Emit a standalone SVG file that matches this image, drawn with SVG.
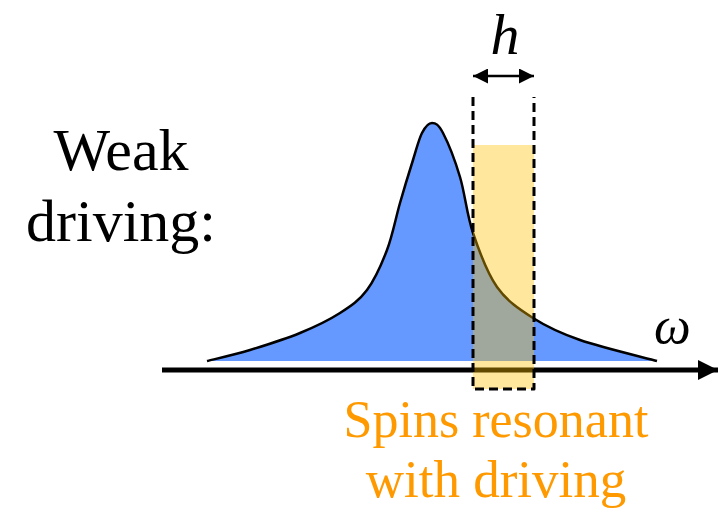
<svg xmlns="http://www.w3.org/2000/svg" width="719" height="511" viewBox="0 0 719 511">
<style>
.ln{stroke:#000;fill:none}
.serif{font-family:'Liberation Serif','Times New Roman',serif}
</style>
<defs>
<marker id="ah" viewBox="0 0 10 10" refX="10" refY="5" markerWidth="6" markerHeight="6" orient="auto-start-reverse" markerUnits="strokeWidth">
<path d="M0,0 L10,5 L0,10 Z" fill="#000"/>
</marker>
<marker id="axh" viewBox="0 0 10 10" refX="10" refY="5" markerWidth="4" markerHeight="4" orient="auto" markerUnits="strokeWidth">
<path d="M0,0 L10,5 L0,10 Z" fill="#000"/>
</marker>
</defs>
<rect width="719" height="511" fill="#fff"/>
<g id="title" class="serif" fill="#000" font-size="60" text-anchor="middle">
<text x="121" y="170">Weak</text>
<text x="121" y="241">driving:</text>
</g>
<g id="distribution">
<path d="M207,361 C214.2,359.2 234.5,354.7 250,350 C265.5,345.3 285,339.2 300,333 C315,326.8 328.8,320.2 340,313 C351.2,305.8 359.2,300.5 367,290 C374.8,279.5 381.5,264.5 387,250 C392.5,235.5 395.7,218 400,203 C404.3,188 409.3,171.7 413,160 C416.7,148.3 418.8,139.2 422,133 C425.2,126.8 428.5,123 432,123 C435.5,123 438.3,124 443,133 C447.7,142 455,160.3 460,177 C465,193.7 466.8,214.7 473,233 C479.2,251.3 487,272.8 497,287 C507,301.2 519.2,309.2 533,318 C546.8,326.8 559.3,332.8 580,340 C600.7,347.2 644.2,357.5 657,361 Z" fill="#6699FF"/>
<path d="M207,361 C214.2,359.2 234.5,354.7 250,350 C265.5,345.3 285,339.2 300,333 C315,326.8 328.8,320.2 340,313 C351.2,305.8 359.2,300.5 367,290 C374.8,279.5 381.5,264.5 387,250 C392.5,235.5 395.7,218 400,203 C404.3,188 409.3,171.7 413,160 C416.7,148.3 418.8,139.2 422,133 C425.2,126.8 428.5,123 432,123 C435.5,123 438.3,124 443,133 C447.7,142 455,160.3 460,177 C465,193.7 466.8,214.7 473,233 C479.2,251.3 487,272.8 497,287 C507,301.2 519.2,309.2 533,318 C546.8,326.8 559.3,332.8 580,340 C600.7,347.2 644.2,357.5 657,361" class="ln" stroke-width="2.5"/>
</g>
<g id="axis">
<line x1="162" y1="370" x2="718" y2="370" class="ln" stroke-width="5" marker-end="url(#axh)"/>
<text class="serif" x="654" y="343" font-size="52" font-style="italic" fill="#000">ω</text>
</g>
<g id="window">
<rect x="473" y="145" width="61" height="244" fill="#FFC000" fill-opacity="0.38"/>
<path d="M473,97 V389 H534 V97" class="ln" stroke-width="3" stroke-dasharray="9,5" stroke-linejoin="round"/>
</g>
<g id="width-h">
<line x1="473" y1="76" x2="534" y2="76" class="ln" stroke-width="2.5" marker-start="url(#ah)" marker-end="url(#ah)"/>
<text class="serif" x="505" y="54" font-size="58" font-style="italic" fill="#000" text-anchor="middle">h</text>
</g>
<g id="caption" class="serif" fill="#FF9900" text-anchor="middle">
<text x="496" y="437" font-size="52">Spins resonant</text>
<text x="496" y="497" font-size="53">with driving</text>
</g>
</svg>
